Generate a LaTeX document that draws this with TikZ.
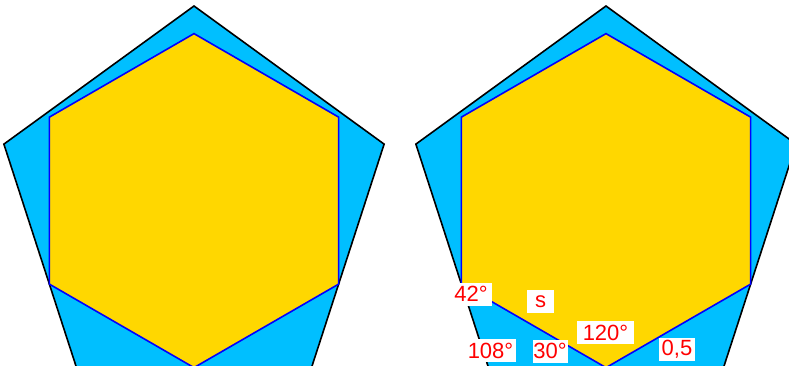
\documentclass[tikz,border=0pt]{standalone}
\usepackage{fontspec}
\setmainfont{Liberation Sans}
\definecolor{skyfill}{RGB}{0,191,255}
\definecolor{hexfill}{RGB}{255,215,0}
\definecolor{hexline}{RGB}{0,0,255}
\definecolor{lblred}{RGB}{255,0,0}
\begin{document}
\begin{tikzpicture}[x=1pt,y=1pt,
  pent/.style={fill=skyfill,draw=black,line width=1.6pt,line join=miter},
  hexa/.style={fill=hexfill,draw=hexline,line width=1.6pt,line join=miter},
  lbl/.style={fill=white,text=lblred,font=\fontsize{22}{24}\selectfont,inner sep=0pt,minimum height=23pt,align=center}]
\useasboundingbox (0,0) rectangle (789,365);
\clip (0,0) rectangle (789,365);
% left figure
\begin{scope}[shift={(194,159.1)}]
  \draw[pent] (90:199.9pt) -- (162:199.9pt) -- (234:199.9pt) -- (306:199.9pt) -- (18:199.9pt) -- cycle;
\end{scope}
\begin{scope}[shift={(194,164.38)}]
  \draw[hexa] (90:167pt) -- (150:167pt) -- (210:167pt) -- (270:167pt) -- (330:167pt) -- (30:167pt) -- cycle;
\end{scope}
% right figure
\begin{scope}[shift={(606,159.1)}]
  \draw[pent] (90:199.9pt) -- (162:199.9pt) -- (234:199.9pt) -- (306:199.9pt) -- (18:199.9pt) -- cycle;
\end{scope}
\begin{scope}[shift={(606,164.38)}]
  \draw[hexa] (90:167pt) -- (150:167pt) -- (210:167pt) -- (270:167pt) -- (330:167pt) -- (30:167pt) -- cycle;
\end{scope}
% labels
\node[lbl,minimum width=42pt] (a42) at (471,71) {42°};
\node[lbl,minimum width=27pt] (sside) at (540.5,63.5) {s};
\node[lbl,minimum width=51pt] (a108) at (490.5,14.5) {108°};
\node[lbl,minimum width=35pt] (a30) at (550,14) {30°};
\node[lbl,minimum width=57pt] (a120) at (605.5,32.5) {120°};
\node[lbl,minimum width=36pt] (half) at (677,15.5) {0,5};
\end{tikzpicture}
\end{document}
